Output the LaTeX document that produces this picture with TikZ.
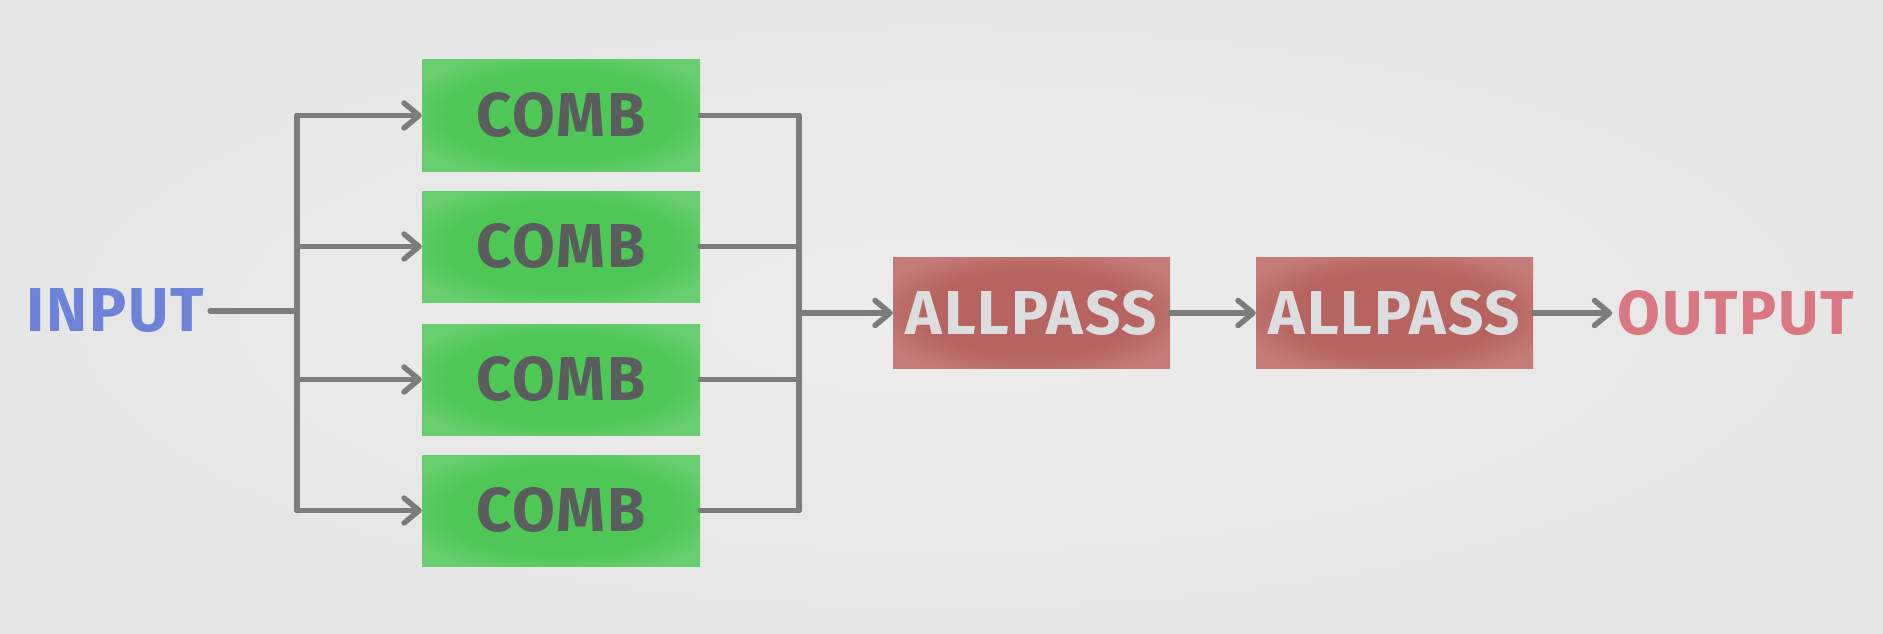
\documentclass[tikz,border=0pt]{standalone}
\usepackage{fontspec}
\newfontfamily\lblfont[LetterSpace=3]{Fira Sans}
\usetikzlibrary{arrows.meta}
\definecolor{bgin}{HTML}{EBECEB}
\definecolor{bgout}{HTML}{E5E6E5}
\definecolor{greenin}{HTML}{4FC757}
\definecolor{greenout}{HTML}{69CE70}
\definecolor{redin}{HTML}{B7635F}
\definecolor{redout}{HTML}{C57B77}
\definecolor{combtext}{HTML}{5A5C5E}
\definecolor{aptext}{HTML}{DCDDDF}
\definecolor{intext}{HTML}{6E82D8}
\definecolor{outtext}{HTML}{D97880}
\definecolor{wire}{HTML}{7B7C7C}
\pgfdeclareradialshading{greenbox}{\pgfpoint{0bp}{0bp}}{color(0bp)=(greenin); color(21bp)=(greenin); color(30bp)=(greenout); color(50bp)=(greenout)}
\pgfdeclareradialshading{redbox}{\pgfpoint{0bp}{0bp}}{color(0bp)=(redin); color(19bp)=(redin); color(30bp)=(redout); color(50bp)=(redout)}
\tikzset{
  lbl/.style={font=\lblfont\bfseries\fontsize{62}{62}\selectfont},
  comb/.style={lbl, minimum width=278pt, minimum height=111pt, inner sep=0pt,
    shading=greenbox, text=combtext},
  allpass/.style={lbl, minimum width=277pt, minimum height=111pt, inner sep=0pt,
    shading=redbox, text=aptext},
  io/.style={lbl, inner sep=0pt},
  wireline/.style={draw=wire, line width=5.5pt, line cap=round, line join=round},
  arr/.style={wireline, -{Straight Barb[length=15pt,width=25pt,line cap=round,line join=round]}}
}
\begin{document}
\begin{tikzpicture}[x=1pt,y=-1pt]
\useasboundingbox (0,0) rectangle (1883,634);
\shade[inner color=bgin, outer color=bgout] (0,0) rectangle (1883,634);

\node[io, text=intext] (in) at (115,311) {INPUT};
\node[comb] (c1) at (561,115.5) {COMB};
\node[comb] (c2) at (561,246.5) {COMB};
\node[comb] (c3) at (561,379.5) {COMB};
\node[comb] (c4) at (561,510.5) {COMB};
\node[allpass] (a1) at (1031.5,313) {ALLPASS};
\node[allpass] (a2) at (1394.5,313) {ALLPASS};
\node[io, text=outtext] (out) at (1736,313) {OUTPUT};

\coordinate (sl) at (297,311);
\coordinate (sr) at (799,313);

\draw[wireline] ([xshift=6pt]in.east) -- (sl);
\draw[wireline] (c1.west -| sl) -- (c4.west -| sl);
\foreach \c in {c1,c2,c3,c4}{
  \draw[arr] (\c.west -| sl) -- (\c.west);
  \draw[wireline] (\c.east) -- (\c.east -| sr);
}
\draw[wireline] (c1.east -| sr) -- (c4.east -| sr);
\draw[arr] (sr) -- (a1.west);
\draw[arr] (a1.east) -- (a2.west);
\draw[arr] (a2.east) -- ([xshift=-5pt]out.west);
\end{tikzpicture}
\end{document}
